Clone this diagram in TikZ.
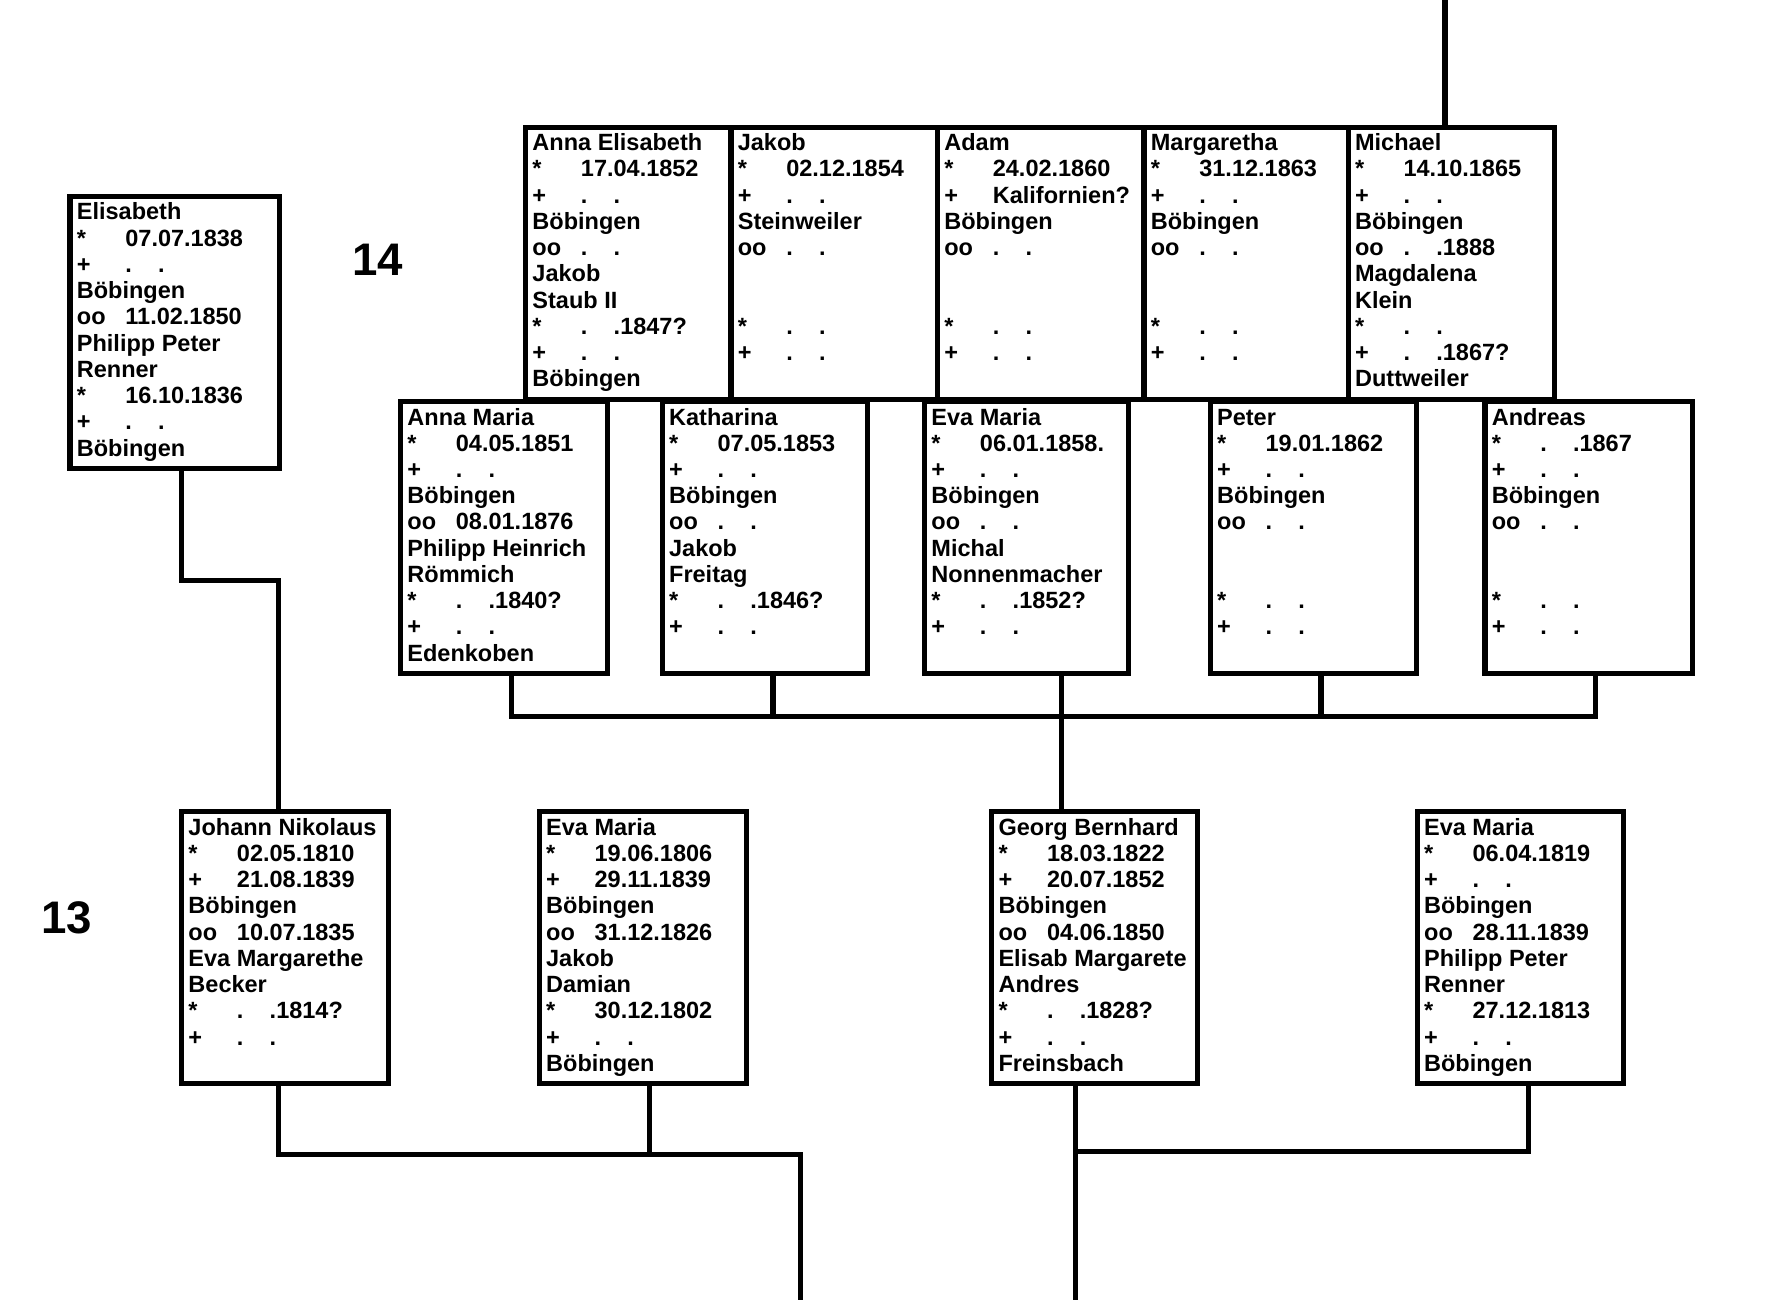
\documentclass[tikz,border=0pt]{standalone}
\usepackage{fontspec}
\setmainfont{Liberation Sans}
\usetikzlibrary{calc}
\newcommand\tb[2]{\makebox[42.5pt][l]{#1}#2}
\newcommand\dd{.\hspace{23pt}.}
\newcommand\li[1]{\strut#1\par}
\newcommand\cardtext[1]{\vtop{\hsize=178pt\parindent=0pt\parskip=0pt\baselineskip=23pt\lineskiplimit=-100pt\lineskip=0pt\leftskip=0pt\rightskip=0pt plus 1fil\parfillskip=0pt plus 1fil\relax#1}}
\newcommand\person[5]{%
  \node[pbox, minimum width=#4pt, anchor=north west] (#1) at (#2,#3) {};
  \node[ptext, anchor=north west] (#1-t) at ($(#1.north west)+(6,4.4)$) {\cardtext{#5}};
}
\begin{document}
\begin{tikzpicture}[x=1pt,y=-1pt,
  pbox/.style={draw, line width=4.5pt, minimum height=238.5pt, inner sep=0pt, outer sep=0pt},
  ptext/.style={inner sep=0pt, outer sep=0pt, font=\fontsize{20.6pt}{23pt}\selectfont\bfseries},
  gen/.style={inner sep=0pt, outer sep=0pt, font=\fontsize{40pt}{48pt}\selectfont\bfseries, anchor=base west},
  conn/.style={line width=4.5pt, line join=miter}]
\useasboundingbox (0,0) rectangle (1568,1145.5);

% generation 14, left
\person{el}{61.4}{172.3}{183.4}{\li{Elisabeth}\li{\tb{*}{07.07.1838}}\li{\tb{+}{\dd}}\li{Böbingen}\li{\tb{oo}{11.02.1850}}\li{Philipp Peter}\li{Renner}\li{\tb{*}{16.10.1836}}\li{\tb{+}{\dd}}\li{Böbingen}}

% top row
\person{ae}{460.7}{111.5}{180}{\li{Anna Elisabeth}\li{\tb{*}{17.04.1852}}\li{\tb{+}{\dd}}\li{Böbingen}\li{\tb{oo}{\dd}}\li{Jakob}\li{Staub II}\li{\tb{*}{\dd1847?}}\li{\tb{+}{\dd}}\li{Böbingen}}
\person{jk}{640.7}{111.5}{181}{\li{Jakob}\li{\tb{*}{02.12.1854}}\li{\tb{+}{\dd}}\li{Steinweiler}\li{\tb{oo}{\dd}}\li{}\li{}\li{\tb{*}{\dd}}\li{\tb{+}{\dd}}\li{}}
\person{ad}{821.7}{111.5}{181}{\li{Adam}\li{\tb{*}{24.02.1860}}\li{\tb{+}{Kalifornien?}}\li{Böbingen}\li{\tb{oo}{\dd}}\li{}\li{}\li{\tb{*}{\dd}}\li{\tb{+}{\dd}}\li{}}
\person{mg}{1002.7}{111.5}{179}{\li{Margaretha}\li{\tb{*}{31.12.1863}}\li{\tb{+}{\dd}}\li{Böbingen}\li{\tb{oo}{\dd}}\li{}\li{}\li{\tb{*}{\dd}}\li{\tb{+}{\dd}}\li{}}
\person{mi}{1181.7}{111.5}{181}{\li{Michael}\li{\tb{*}{14.10.1865}}\li{\tb{+}{\dd}}\li{Böbingen}\li{\tb{oo}{\dd1888}}\li{Magdalena}\li{Klein}\li{\tb{*}{\dd}}\li{\tb{+}{\dd1867?}}\li{Duttweiler}}

% second row
\person{am}{351.1}{352}{181}{\li{Anna Maria}\li{\tb{*}{04.05.1851}}\li{\tb{+}{\dd}}\li{Böbingen}\li{\tb{oo}{08.01.1876}}\li{Philipp Heinrich}\li{Römmich}\li{\tb{*}{\dd1840?}}\li{\tb{+}{\dd}}\li{Edenkoben}}
\person{ka}{580.5}{352}{180}{\li{Katharina}\li{\tb{*}{07.05.1853}}\li{\tb{+}{\dd}}\li{Böbingen}\li{\tb{oo}{\dd}}\li{Jakob}\li{Freitag}\li{\tb{*}{\dd1846?}}\li{\tb{+}{\dd}}\li{}}
\person{em}{810.4}{352}{179}{\li{Eva Maria}\li{\tb{*}{06.01.1858.}}\li{\tb{+}{\dd}}\li{Böbingen}\li{\tb{oo}{\dd}}\li{Michal}\li{Nonnenmacher}\li{\tb{*}{\dd1852?}}\li{\tb{+}{\dd}}\li{}}
\person{pe}{1060.8}{352}{181}{\li{Peter}\li{\tb{*}{19.01.1862}}\li{\tb{+}{\dd}}\li{Böbingen}\li{\tb{oo}{\dd}}\li{}\li{}\li{\tb{*}{\dd}}\li{\tb{+}{\dd}}\li{}}
\person{an}{1301.5}{352}{182}{\li{Andreas}\li{\tb{*}{\dd1867}}\li{\tb{+}{\dd}}\li{Böbingen}\li{\tb{oo}{\dd}}\li{}\li{}\li{\tb{*}{\dd}}\li{\tb{+}{\dd}}\li{}}

% generation 13
\person{jn}{159.2}{711.5}{181.6}{\li{Johann Nikolaus}\li{\tb{*}{02.05.1810}}\li{\tb{+}{21.08.1839}}\li{Böbingen}\li{\tb{oo}{10.07.1835}}\li{Eva Margarethe}\li{Becker}\li{\tb{*}{\dd1814?}}\li{\tb{+}{\dd}}\li{}}
\person{ev1}{472.7}{711.5}{181.6}{\li{Eva Maria}\li{\tb{*}{19.06.1806}}\li{\tb{+}{29.11.1839}}\li{Böbingen}\li{\tb{oo}{31.12.1826}}\li{Jakob}\li{Damian}\li{\tb{*}{30.12.1802}}\li{\tb{+}{\dd}}\li{Böbingen}}
\person{gb}{869.2}{711.5}{180.7}{\li{Georg Bernhard}\li{\tb{*}{18.03.1822}}\li{\tb{+}{20.07.1852}}\li{Böbingen}\li{\tb{oo}{04.06.1850}}\li{Elisab Margarete}\li{Andres}\li{\tb{*}{\dd1828?}}\li{\tb{+}{\dd}}\li{Freinsbach}}
\person{ev2}{1242.2}{711.5}{180.8}{\li{Eva Maria}\li{\tb{*}{06.04.1819}}\li{\tb{+}{\dd}}\li{Böbingen}\li{\tb{oo}{28.11.1839}}\li{Philipp Peter}\li{Renner}\li{\tb{*}{27.12.1813}}\li{\tb{+}{\dd}}\li{Böbingen}}

% generation labels
\node[gen] (g14) at (308.6,241.6) {14};
\node[gen] (g13) at (36.4,818) {13};

% connectors
\coordinate (topend) at (1266.5,0);
\draw[conn] (topend) -- (topend |- mi.north);

\path ($(el.south west)+(98,0)$) coordinate (eld) ($(jn.north west)+(84.6,0)$) coordinate (jnu);
\coordinate (elbend) at (0,508.5);
\draw[conn] (eld) -- (eld |- elbend) -- (jnu |- elbend) -- (jnu);

\coordinate (bus14) at (0,628);
\path ($(am.south west)+(97,0)$) coordinate (amd)
      ($(ka.south west)+(97,0)$) coordinate (kad)
      ($(em.south west)+(120,0)$) coordinate (emd)
      ($(pe.south west)+(97,0)$) coordinate (ped)
      ($(an.south west)+(97,0)$) coordinate (andd);
\draw[conn] (amd) -- (amd |- bus14) -- (andd |- bus14) -- (andd);
\draw[conn] (kad) -- (kad |- bus14);
\draw[conn] (ped) -- (ped |- bus14);
\draw[conn] (emd) -- (emd |- gb.north);

\path ($(jn.south west)+(85,0)$) coordinate (jnd) ($(ev1.south west)+(96.5,0)$) coordinate (ev1d);
\coordinate (busa) at (701.5,1012);
\coordinate (enda) at (701.5,1139.5);
\draw[conn] (jnd) -- (jnd |- busa) -- (busa) -- (enda);
\draw[conn] (ev1d) -- (ev1d |- busa);

\path ($(gb.south west)+(73.2,0)$) coordinate (gbd) ($(ev2.south west)+(97.3,0)$) coordinate (ev2d);
\coordinate (busb) at (0,1009);
\coordinate (endb) at (0,1139.5);
\draw[conn] (ev2d) -- (ev2d |- busb) -- (gbd |- busb);
\draw[conn] (gbd) -- (gbd |- endb);
\end{tikzpicture}
\end{document}
